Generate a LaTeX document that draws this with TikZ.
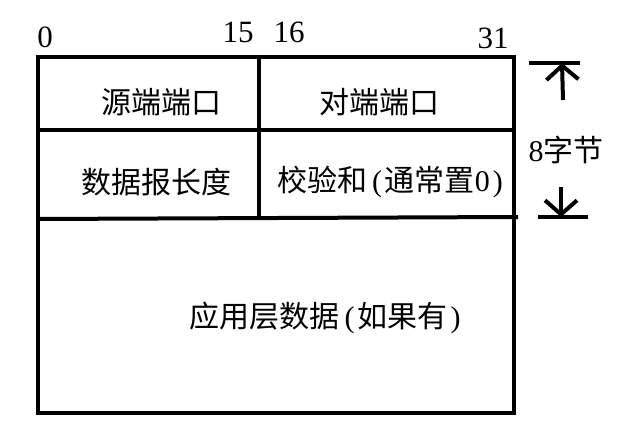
\documentclass[tikz,border=0pt]{standalone}
\usepackage{fontspec}
\setmainfont{Liberation Serif}
\newfontfamily\cjk{Noto Sans CJK SC}
\newcommand{\lat}[1]{{\fontspec{Liberation Serif}#1}}
\newcommand{\lpar}{\hspace{5pt}\lat{(}\hspace{3pt}}
\newcommand{\rpar}{\hspace{3pt}\lat{)}\hspace{5pt}}
\usetikzlibrary{arrows.meta}

\begin{document}
\begin{tikzpicture}[x=1pt, y=-1pt, >={Straight Barb[length=14pt, width=32pt]}, line width=4pt]
\useasboundingbox (0,0) rectangle (623,446);
% bit positions
\node[font=\fontsize{31}{34}\selectfont, anchor=base] (b0) at (45,48) {0};
\node[font=\fontsize{31}{34}\selectfont, anchor=base] (b15) at (238,43) {15};
\node[font=\fontsize{31}{34}\selectfont, anchor=base] (b16) at (289,43) {16};
\node[font=\fontsize{31}{34}\selectfont, anchor=base] (b31) at (493,49) {31};
% fields
\node[font=\cjk\fontsize{30}{34}\selectfont] (src) at (161,102) {源端端口};
\node[font=\cjk\fontsize{30}{34}\selectfont] (dst) at (379,102) {对端端口};
\node[font=\cjk\fontsize{30}{34}\selectfont] (len) at (156,182) {数据报长度};
\node[font=\cjk\fontsize{30}{34}\selectfont, anchor=west, inner sep=0pt] (sum) at (275,182) {校验和\lpar 通常置\lat{0}\rpar};
\node[font=\cjk\fontsize{30}{34}\selectfont] (data) at (325,318) {应用层数据\lpar 如果有\rpar};
% 8 bytes
\node[font=\cjk\fontsize{30}{34}\selectfont] (size) at (566,150) {\lat{8}字节};
% frame of the header
\draw (38,57) rectangle (514,413);
\draw (259,57) -- (259,219);
\draw (38,130) -- (514,130);
\draw (38,219) -- (518,217);
\coordinate (topbar) at (562,63);
\coordinate (botbar) at (561,217);
\draw (529,63) -- (580,63);
\draw (538,217) -- (588,217);
\draw[->] (563,100) -- (topbar);
\draw[->] (561,187) -- (botbar);
\end{tikzpicture}
\end{document}
